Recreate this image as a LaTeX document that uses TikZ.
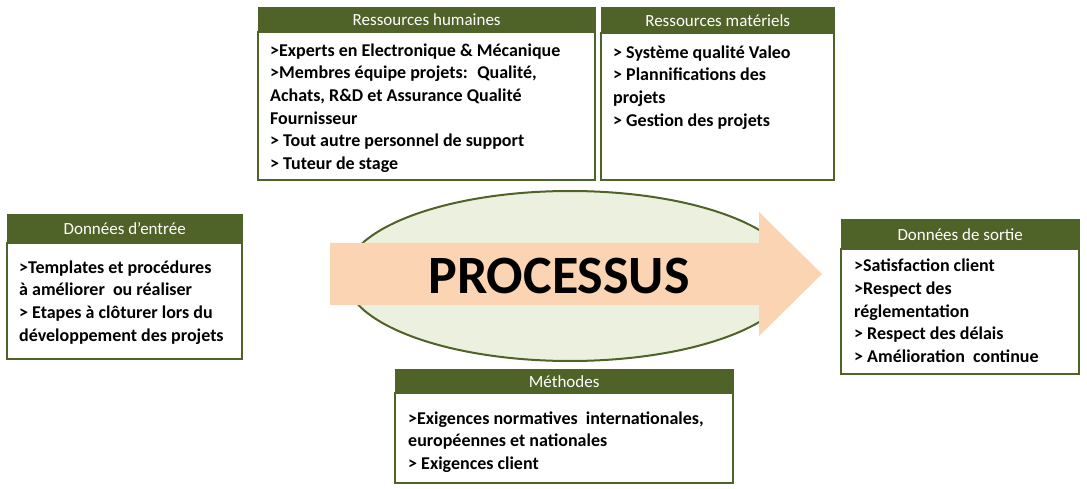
\documentclass[tikz,border=0pt]{standalone}
\usepackage{fontspec}
\setmainfont{Carlito}
\usepackage{tikz}
\usetikzlibrary{positioning,shapes.geometric}

\definecolor{olive}{HTML}{4F6228}
\definecolor{oliveclair}{HTML}{EBF1DE}
\definecolor{peche}{HTML}{FBD4B4}

\tikzset{
  entete/.style={fill=olive, draw=olive, text=white, inner sep=0pt,
    font=\fontsize{17}{20}\selectfont},
  cadre/.style={draw=olive, line width=1.6pt, fill=white, inner sep=0pt},
  liste/.style={anchor=north west, inner sep=0pt, align=left,
    font=\fontsize{18}{22.6}\selectfont\bfseries}
}

\begin{document}
\begin{tikzpicture}[x=1pt, y=-1pt]
  \useasboundingbox (0,0) rectangle (1087,489);

  % processus
  \draw[olive, line width=2pt, fill=oliveclair] (570,276)
    ellipse [x radius=225pt, y radius=85pt];
  \fill[peche] (330,243) -- (759,243) -- (759,212) -- (822,274)
    -- (759,336) -- (759,305) -- (330,305) -- cycle;
  \node[font=\fontsize{54}{64}\selectfont\bfseries] (P) at (559,276) {PROCESSUS};

  % ressources humaines
  \draw[cadre] (258,32) rectangle (595,180);
  \node[entete, minimum width=337pt, minimum height=25pt, anchor=north west]
    (RH) at (258,7) {Ressources humaines};
  \node[liste] (RHt) at (270,43.5) {>Experts en Electronique \& Mécanique\\
    >Membres équipe projets:~ Qualité,\\
    Achats, R\&D et Assurance Qualité\\
    Fournisseur\\
    > Tout autre personnel de support\\
    > Tuteur de stage};

  % ressources materiels
  \draw[cadre] (601,33) rectangle (834,180);
  \node[entete, minimum width=233pt, minimum height=26pt, anchor=north west]
    (RM) at (601,7) {Ressources matériels};
  \node[liste] (RMt) at (613,45.5) {> Système qualité Valeo\\
    > Plannifications des\\
    projets\\
    > Gestion des projets};

  % donnees d'entree
  \draw[cadre] (7,243) rectangle (242,359);
  \node[entete, minimum width=235pt, minimum height=29pt, anchor=north west]
    (DE) at (7,214) {Données d'entrée};
  \node[liste] (DEt) at (19,260.5) {>Templates et procédures\\
    à améliorer~ ou réaliser\\
    > Etapes à clôturer lors du\\
    développement des projets};

  % donnees de sortie
  \draw[cadre] (841,249) rectangle (1079,374);
  \node[entete, minimum width=238pt, minimum height=30pt, anchor=north west]
    (DS) at (841,219) {Données de sortie};
  \node[liste] (DSt) at (854,259) {>Satisfaction client\\
    >Respect des\\
    réglementation\\
    > Respect des délais\\
    > Amélioration~ continue};

  % methodes
  \draw[cadre] (395,393) rectangle (733,483);
  \node[entete, minimum width=338pt, minimum height=24pt, anchor=north west]
    (ME) at (395,369) {Méthodes};
  \node[liste] (MEt) at (408,411.5) {>Exigences normatives~ internationales,\\
    européennes et nationales\\
    > Exigences client};
\end{tikzpicture}
\end{document}
